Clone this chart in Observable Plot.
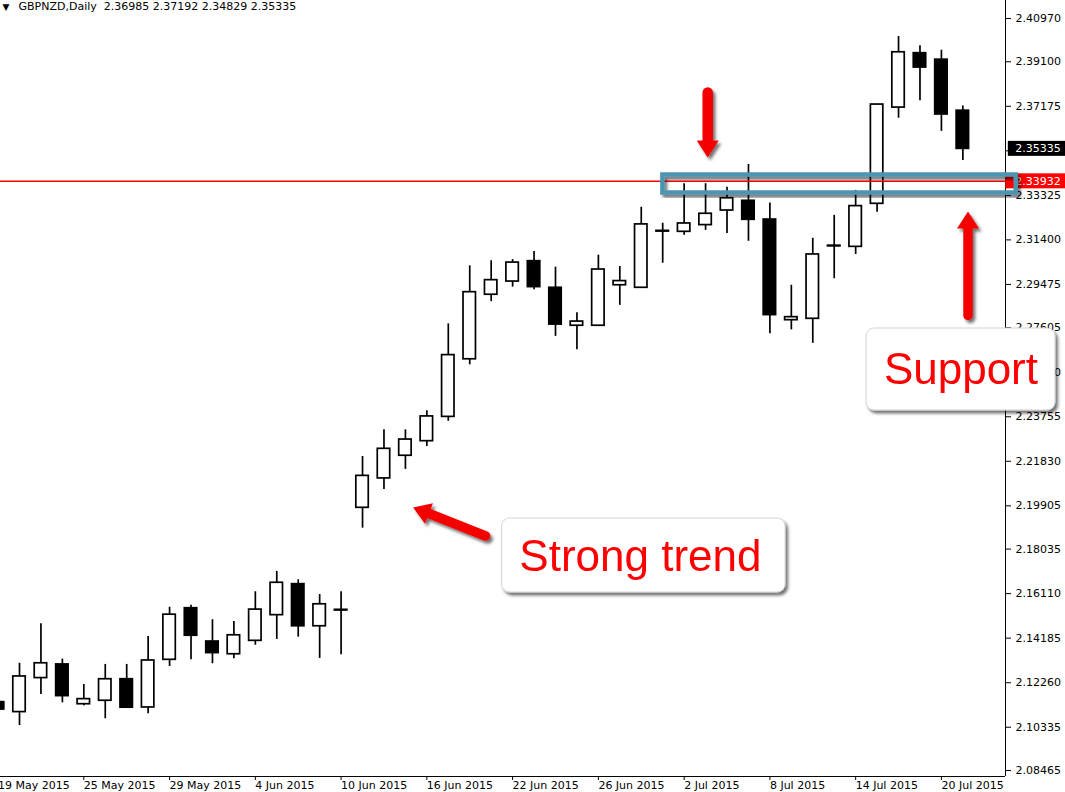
<!DOCTYPE html>
<html><head><meta charset="utf-8">
<script src="https://cdn.jsdelivr.net/npm/d3@7"></script>
<script src="https://cdn.jsdelivr.net/npm/@observablehq/plot@0.6"></script>
<style>html,body{margin:0;padding:0;background:#fff;} #chart{width:1065px;height:792px;overflow:hidden;}</style>
</head><body><div id="chart"></div>
<script>
// ---- data ----
const dates = ["19 May 2015","20 May 2015","21 May 2015","22 May 2015","25 May 2015","26 May 2015","27 May 2015","28 May 2015","29 May 2015",
  "1 Jun 2015","2 Jun 2015","3 Jun 2015","4 Jun 2015","5 Jun 2015","8 Jun 2015","9 Jun 2015","10 Jun 2015","11 Jun 2015","12 Jun 2015",
  "15 Jun 2015","16 Jun 2015","17 Jun 2015","18 Jun 2015","19 Jun 2015","22 Jun 2015","23 Jun 2015","24 Jun 2015","25 Jun 2015","26 Jun 2015",
  "29 Jun 2015","30 Jun 2015","1 Jul 2015","2 Jul 2015","3 Jul 2015","6 Jul 2015","7 Jul 2015","8 Jul 2015","9 Jul 2015","10 Jul 2015",
  "13 Jul 2015","14 Jul 2015","15 Jul 2015","16 Jul 2015","17 Jul 2015","20 Jul 2015","21 Jul 2015"];
const open  = [2.1142,2.1099,2.1246,2.1305,2.1133,2.1148,2.1241,2.1119,2.1325,2.1548,2.1404,2.1349,2.1407,2.1518,2.1652,2.1470,2.1541,
  2.1982,2.2109,2.2207,2.2270,2.2375,2.2624,2.2903,2.2960,2.3048,2.2933,2.2769,2.2769,2.2944,2.2933,2.3179,2.3175,2.3204,2.3267,2.3309,
  2.3228,2.2793,2.2799,2.3115,2.3110,2.3296,2.3712,2.3947,2.3919,2.36985];
const high  = [2.1153,2.1310,2.1481,2.1328,2.1218,2.1305,2.1305,2.1426,2.1552,2.1561,2.1498,2.1491,2.1619,2.1707,2.1671,2.1607,2.1619,
  2.2204,2.2319,2.2319,2.2401,2.2777,2.3028,2.3050,2.3055,2.3090,2.3022,2.2825,2.3074,2.3025,2.3281,2.3212,2.3383,2.3383,2.3368,2.3466,
  2.3299,2.2944,2.3147,2.3246,2.3354,2.3726,2.4019,2.3979,2.3960,2.37192];
const low   = [2.1097,2.1041,2.1175,2.1139,2.1126,2.1070,2.1117,2.1092,2.1296,2.1325,2.1308,2.1329,2.1388,2.1413,2.1423,2.1331,2.1347,
  2.1894,2.2061,2.2148,2.2247,2.2356,2.2600,2.2873,2.2936,2.2924,2.2723,2.2665,2.2768,2.2857,2.2930,2.3039,2.3160,2.3181,2.3168,2.3134,
  2.2734,2.2751,2.2693,2.2972,2.3077,2.3260,2.3666,2.3741,2.3609,2.34829];
const close = [2.1110,2.1253,2.1310,2.1168,2.1155,2.1241,2.1118,2.1322,2.1520,2.1429,2.1354,2.1431,2.1542,2.1658,2.1470,2.1565,2.1538,
  2.2120,2.2237,2.2277,2.2377,2.2642,2.2914,2.2966,2.3042,2.2936,2.2774,2.2787,2.3012,2.2962,2.3207,2.3176,2.3211,2.3253,2.3320,2.3227,
  2.2815,2.2806,2.3077,2.3112,2.3286,2.3725,2.3951,2.3885,2.3682,2.35335];
const tickLabels = ["19 May 2015","25 May 2015","29 May 2015","4 Jun 2015","10 Jun 2015","16 Jun 2015","22 Jun 2015","26 Jun 2015",
  "2 Jul 2015","8 Jul 2015","14 Jul 2015","20 Jul 2015"];
const yTickLabels = ["2.40970","2.39100","2.37175","2.35250","2.33325","2.31400","2.29475","2.27605","2.25680","2.23755","2.21830",
  "2.19905","2.18035","2.16110","2.14185","2.12260","2.10335","2.08465"];
const title = "GBPNZD,Daily  2.36985 2.37192 2.34829 2.35335";
const supportLevel = 2.33932;
const lastPrice = 2.35335;

// annotations (in data space: bar index, price)
const zone = {x1: 31.01, x2: 47.49, y1: 2.34205, y2: 2.33427};
const arrows = [
  {x1: 33.10, y1: 2.37772, x2: 33.10, y2: 2.35697, angle: 180, w: 10.5},
  {x1: 45.24, y1: 2.28132, x2: 45.24, y2: 2.31893, angle: 0, w: 9.5},
  {x1: 22.74, y1: 2.18601, x2: 20.10, y2: 2.19574, angle: -69, w: 9.5}
];
const notes = [
  {label: "Strong trend", x1: 23.51, x2: 36.73, y1: 2.19358, y2: 2.16159, tx: 29.96, ty: 2.17719},
  {label: "Support", x1: 40.51, x2: 49.32, y1: 2.27570, y2: 2.24026, tx: 44.91, ty: 2.25759}
];

// ---- build ----
const bars = dates.map((d, i) => ({i, date: d, open: open[i], high: high[i], low: low[i], close: close[i], up: close[i] >= open[i]}));
const xDomain = [0.1138, 46.989];
const yDomain = [2.082057, 2.417479];
const half = 0.29;
const tickIdx = tickLabels.map(l => dates.indexOf(l));

function head(angle) {
  const a = angle * Math.PI / 180, c = Math.cos(a), s = Math.sin(a);
  return {draw(ctx, size) {
    const r = Math.sqrt(size / Math.PI), h = 1.7 * r, w = 1.1 * r;
    const pts = [[0, -h], [w, 0], [-w, 0]].map(([x, y]) => [x * c - y * s, x * s + y * c]);
    ctx.moveTo(pts[0][0], pts[0][1]); ctx.lineTo(pts[1][0], pts[1][1]); ctx.lineTo(pts[2][0], pts[2][1]); ctx.closePath();
  }};
}

const marks = [
  Plot.ruleX(bars, {x: "i", y1: "low", y2: "high", stroke: "black", strokeWidth: 1.7}),
  Plot.rect(bars.filter(d => d.up), {x1: d => d.i - half, x2: d => d.i + half, y1: "open", y2: "close", fill: "white", stroke: "black", strokeWidth: 1.7}),
  Plot.rect(bars.filter(d => !d.up), {x1: d => d.i - half, x2: d => d.i + half, y1: "open", y2: "close", fill: "black", stroke: "black", strokeWidth: 1.7}),
  Plot.ruleY([supportLevel], {stroke: "#ff0000", strokeWidth: 1.6}),
  Plot.ruleX([xDomain[1]], {stroke: "black", strokeWidth: 1}),
  Plot.ruleY([yDomain[0]], {stroke: "black", strokeWidth: 1}),
  Plot.axisY({anchor: "right", ticks: yTickLabels.map(Number), tickFormat: d => yTickLabels[yTickLabels.map(Number).indexOf(d)],
    tickSize: 5, tickPadding: 5, textAnchor: "start", fontSize: 11, label: null}),
  Plot.axisX({anchor: "bottom", ticks: tickIdx, tickFormat: d => tickLabels[tickIdx.indexOf(d)],
    tickSize: 4, tickPadding: 1, textAnchor: "start", fontSize: 11, label: null}),
  Plot.rect([lastPrice], {x1: 47.12, x2: 49.9, y1: d => d, y2: d => d, insetTop: -7.5, insetBottom: -7.5, fill: "black"}),
  Plot.text([lastPrice], {x: 47.12, y: d => d, text: d => d.toFixed(5), fill: "white", textAnchor: "start", dx: 7, fontSize: 11}),
  Plot.rect([supportLevel], {x1: 47.0, x2: 49.9, y1: d => d, y2: d => d, insetTop: -7.5, insetBottom: -7.5, fill: "#ff0000"}),
  Plot.text([supportLevel], {x: 47.12, y: d => d, text: d => d.toFixed(5), fill: "white", textAnchor: "start", dx: 7, fontSize: 11}),
  Plot.text(["\u25BC"], {text: d => d, frameAnchor: "top-left", dx: 2, dy: 3, fontSize: 9, fill: "black"}),
  Plot.text([title], {text: d => d, frameAnchor: "top-left", dx: 18, dy: 2, fontSize: 11, fill: "black"}),
  Plot.rect([zone], {x1: "x1", x2: "x2", y1: "y1", y2: "y2", fill: "none", stroke: "#4b95b1", strokeWidth: 4.5, ariaDescription: "shadowed"}),
  ...arrows.map(a => Plot.link([a], {x1: "x1", y1: "y1", x2: "x2", y2: "y2", stroke: "#f50000", strokeWidth: a.w, strokeLinecap: "round", ariaDescription: "arrow"})),
  ...arrows.map(a => Plot.dot([a], {x: "x2", y: "y2", r: 10, symbol: head(a.angle), fill: "#f50000", stroke: "none", ariaDescription: "arrow"})),
  Plot.rect(notes, {x1: "x1", x2: "x2", y1: "y1", y2: "y2", fill: "white", stroke: "#d4d4d4", strokeWidth: 1, rx: 8, ariaDescription: "shadowed"}),
  Plot.text(notes, {x: "tx", y: "ty", text: "label", fill: "#ff0000", fontSize: 44, fontFamily: "Liberation Sans", textAnchor: "middle"})
];

const svg = Plot.plot({
  width: 1065, height: 792,
  marginLeft: 0, marginRight: 60, marginTop: 0, marginBottom: 16,
  x: {domain: xDomain, label: null},
  y: {domain: yDomain, label: null},
  style: {background: "white", fontFamily: "DejaVu Sans", fontSize: "11px", color: "black", overflow: "hidden"},
  marks
});

const sel = d3.select(svg);
const defs = sel.insert("defs", ":first-child");
const f = defs.append("filter").attr("id", "ds").attr("x", "-20%").attr("y", "-20%").attr("width", "150%").attr("height", "150%");
f.append("feDropShadow").attr("dx", 2.5).attr("dy", 3).attr("stdDeviation", 1.4).attr("flood-color", "#000").attr("flood-opacity", 0.55);
sel.selectAll('g[aria-description="shadowed"]').attr("filter", "url(#ds)");
const ag = sel.append("g").attr("filter", "url(#ds)");
const arrowGroups = sel.selectAll('g[aria-description="arrow"]').nodes();
arrowGroups.forEach(n => ag.node().appendChild(n));
// keep notes above arrows
sel.selectAll('g[aria-description="shadowed"]').nodes().slice(1).forEach(n => svg.appendChild(n));
const textGroups = sel.selectAll('g[aria-label="text"]').nodes();
svg.appendChild(textGroups[textGroups.length - 1]);

document.getElementById("chart").appendChild(svg);
</script>
</body></html>
